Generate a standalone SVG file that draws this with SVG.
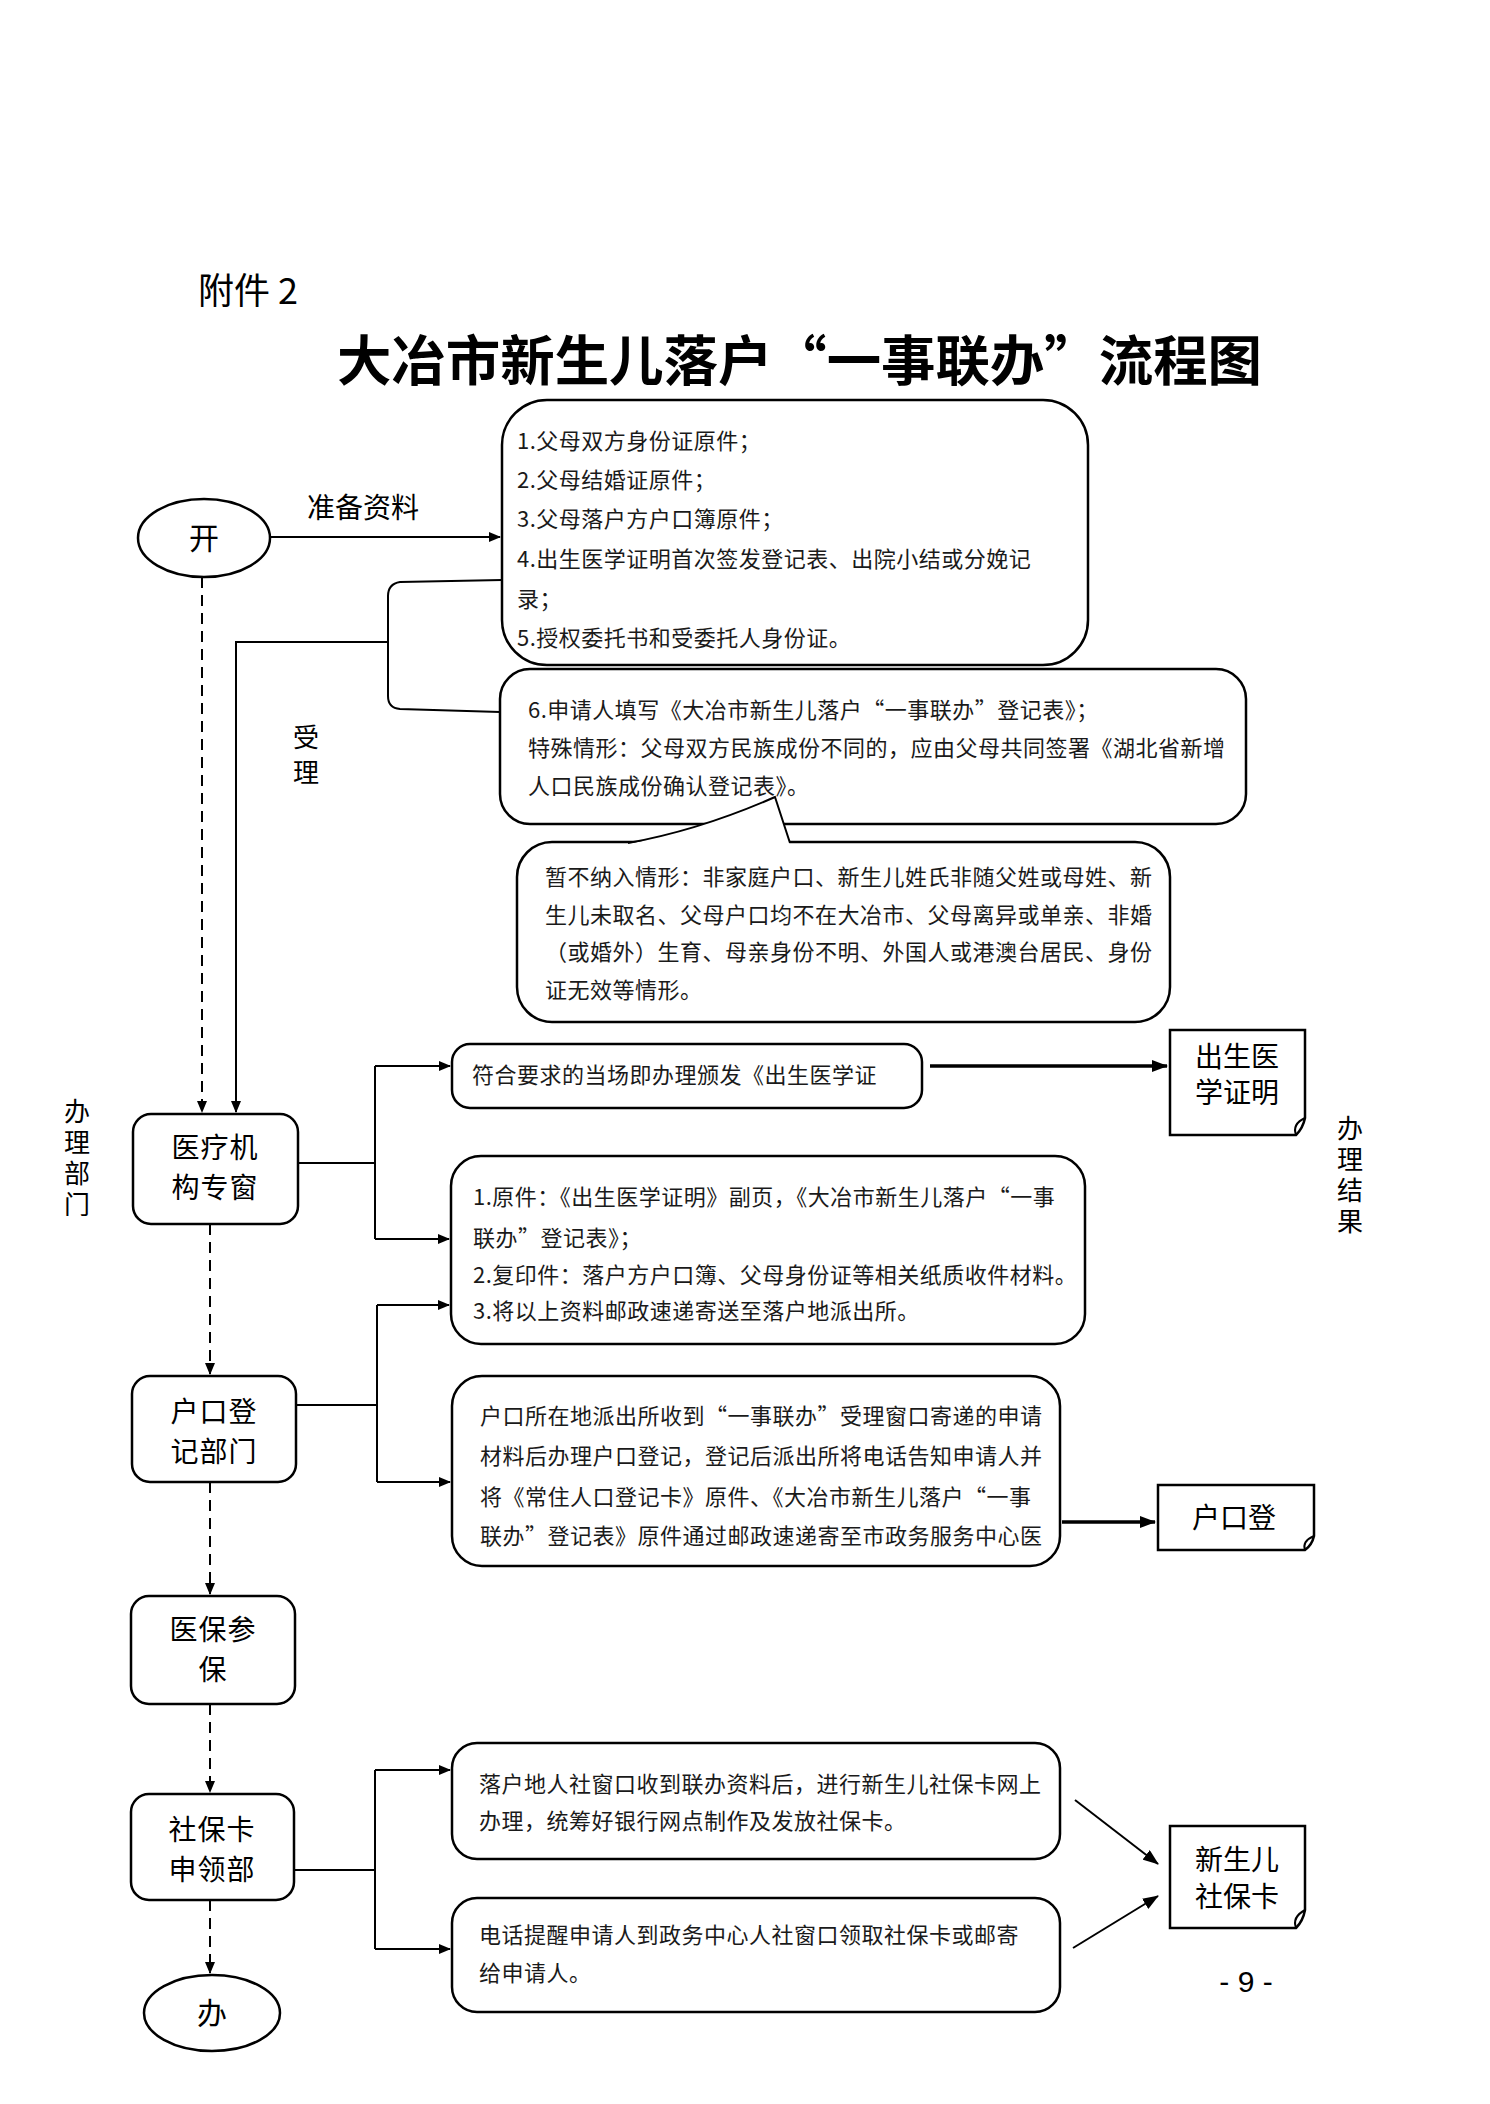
<svg xmlns="http://www.w3.org/2000/svg" width="1490" height="2104" viewBox="0 0 1490 2104">
<defs>
<marker id="ah" viewBox="0 0 12 10" refX="11" refY="5" markerWidth="12" markerHeight="10" markerUnits="userSpaceOnUse" orient="auto">
<path d="M0,0 L12,5 L0,10 z" fill="#000"/>
</marker>
<marker id="ahb" viewBox="0 0 16 12" refX="15" refY="6" markerWidth="16" markerHeight="12" markerUnits="userSpaceOnUse" orient="auto">
<path d="M0,0 L16,6 L0,12 z" fill="#000"/>
</marker>
</defs>
<style>
.bx{fill:#fff;stroke:#000;stroke-width:2.5}
.ln{fill:none;stroke:#000;stroke-width:2}
.thk{fill:none;stroke:#000;stroke-width:3.5}
.dash{fill:none;stroke:#000;stroke-width:2;stroke-dasharray:11 7}
.t{font-family:"Noto Sans CJK SC","Noto Sans",sans-serif;font-size:22px;fill:#1a1a1a;letter-spacing:0.5px}
.n{font-family:"Noto Sans CJK SC","Noto Sans",sans-serif;font-size:30px;fill:#000;text-anchor:middle}
.nd{font-family:"Noto Sans CJK SC","Noto Sans",sans-serif;font-size:28px;fill:#000;text-anchor:middle;letter-spacing:1px}
.r{font-family:"Noto Sans CJK SC","Noto Sans",sans-serif;font-size:28px;fill:#000;text-anchor:middle}
.lb{font-family:"Noto Sans CJK SC","Noto Sans",sans-serif;font-size:28px;fill:#000;text-anchor:middle}
.v{font-family:"Noto Sans CJK SC","Noto Sans",sans-serif;font-size:26px;fill:#000;writing-mode:vertical-rl}
</style>
<rect width="1490" height="2104" fill="#fff"/>
<text x="198" y="304" font-family="Noto Sans CJK SC,sans-serif" font-size="36" fill="#000">附件 2</text>
<text x="337" y="381" font-family="Noto Sans CJK SC,sans-serif" font-size="54" font-weight="bold" fill="#000" textLength="925" lengthAdjust="spacingAndGlyphs">大冶市新生儿落户“一事联办”流程图</text>

<g id="connectors">
<path class="ln" d="M270,537 H500" marker-end="url(#ah)"/>
<path class="ln" d="M502,580 L400,582 Q388,584 388,596 L388,696 Q388,708 400,709 L500,712"/>
<path class="ln" d="M388,642 H236 V1112" marker-end="url(#ah)"/>
<path class="dash" d="M202,577 V1112" marker-end="url(#ah)"/>
<path class="ln" d="M298,1163 H375 M375,1066 V1239"/>
<path class="ln" d="M375,1066 H450" marker-end="url(#ah)"/>
<path class="ln" d="M375,1239 H449" marker-end="url(#ah)"/>
<path class="thk" d="M930,1066 H1167" marker-end="url(#ahb)"/>
<path class="dash" d="M210,1224 V1374" marker-end="url(#ah)"/>
<path class="ln" d="M296,1405 H377 M377,1305 V1482"/>
<path class="ln" d="M377,1305 H449" marker-end="url(#ah)"/>
<path class="ln" d="M377,1482 H450" marker-end="url(#ah)"/>
<path class="thk" d="M1062,1522 H1155" marker-end="url(#ahb)"/>
<path class="dash" d="M210,1482 V1594" marker-end="url(#ah)"/>
<path class="dash" d="M210,1704 V1792" marker-end="url(#ah)"/>
<path class="ln" d="M294,1870 H375 M375,1770 V1949"/>
<path class="ln" d="M375,1770 H450" marker-end="url(#ah)"/>
<path class="ln" d="M375,1949 H450" marker-end="url(#ah)"/>
<path class="ln" d="M1075,1800 L1158,1864" marker-end="url(#ahb)"/>
<path class="ln" d="M1073,1948 L1158,1896" marker-end="url(#ahb)"/>
<path class="dash" d="M210,1900 V1973" marker-end="url(#ah)"/>
</g>

<g id="start">
<ellipse class="bx" cx="204" cy="538" rx="66" ry="39"/>
<text class="n" x="204" y="549">开</text>
</g>
<text class="lb" x="363" y="518">准备资料</text>

<g id="box-materials">
<rect class="bx" x="502" y="400" width="586" height="265" rx="45"/>
<text class="t" x="517" y="449">1.父母双方身份证原件；</text>
<text class="t" x="517" y="488">2.父母结婚证原件；</text>
<text class="t" x="517" y="527">3.父母落户方户口簿原件；</text>
<text class="t" x="517" y="567">4.出生医学证明首次签发登记表、出院小结或分娩记</text>
<text class="t" x="517" y="607">录；</text>
<text class="t" x="517" y="646">5.授权委托书和受委托人身份证。</text>
</g>

<g id="box-form">
<rect class="bx" x="500" y="669" width="746" height="155" rx="30"/>
<text class="t" x="528" y="718" letter-spacing="0">6.申请人填写《大冶市新生儿落户“一事联办”登记表》；</text>
<text class="t" x="528" y="756" letter-spacing="0.3">特殊情形：父母双方民族成份不同的，应由父母共同签署《湖北省新增</text>
<text class="t" x="528" y="794" letter-spacing="0.3">人口民族成份确认登记表》。</text>
</g>

<g id="box-exclude">
<rect class="bx" x="517" y="842" width="653" height="180" rx="35"/>
<path d="M628,844 Q700,830 775,797 L790,844 Z" fill="#fff" stroke="none"/>
<path class="ln" stroke-width="2.5" d="M628,843 Q700,830 775,797 L790,843"/>
<text class="t" x="545" y="885" letter-spacing="0.2">暂不纳入情形：非家庭户口、新生儿姓氏非随父姓或母姓、新</text>
<text class="t" x="545" y="923" letter-spacing="0.2">生儿未取名、父母户口均不在大冶市、父母离异或单亲、非婚</text>
<text class="t" x="545" y="960" letter-spacing="0.2">（或婚外）生育、母亲身份不明、外国人或港澳台居民、身份</text>
<text class="t" x="545" y="998" letter-spacing="0.2">证无效等情形。</text>
</g>

<text id="label-accept" class="v" x="306" y="724" letter-spacing="9">受理</text>
<text id="label-dept" class="v" x="77" y="1098" letter-spacing="5">办理部门</text>
<text id="label-result" class="v" x="1350" y="1115" letter-spacing="5">办理结果</text>

<g id="node-hospital">
<rect class="bx" x="133" y="1114" width="165" height="110" rx="18"/>
<text class="nd"><tspan x="215" y="1158">医疗机</tspan><tspan x="215" y="1198">构专窗</tspan></text>
</g>

<g id="box-issue">
<rect class="bx" x="452" y="1044" width="470" height="64" rx="18"/>
<text class="t" x="472" y="1083">符合要求的当场即办理颁发《出生医学证</text>
</g>

<g id="result-birthcert">
<path class="bx" d="M1170,1030 H1305 V1118 Q1303,1128 1296,1135 H1170 Z"/>
<path class="ln" d="M1296,1135 Q1292,1124 1305,1118"/>
<text class="r"><tspan x="1237" y="1067">出生医</tspan><tspan x="1237" y="1103">学证明</tspan></text>
</g>

<g id="box-mail">
<rect class="bx" x="451" y="1156" width="634" height="188" rx="30"/>
<text class="t" x="473" y="1205" letter-spacing="0.3">1.原件：《出生医学证明》副页，《大冶市新生儿落户“一事</text>
<text class="t" x="473" y="1246" letter-spacing="0.3">联办”登记表》；</text>
<text class="t" x="473" y="1283" letter-spacing="0.1">2.复印件：落户方户口簿、父母身份证等相关纸质收件材料。</text>
<text class="t" x="473" y="1319" letter-spacing="0.3">3.将以上资料邮政速递寄送至落户地派出所。</text>
</g>

<g id="node-police">
<rect class="bx" x="132" y="1376" width="164" height="106" rx="18"/>
<text class="nd"><tspan x="214" y="1422">户口登</tspan><tspan x="214" y="1462">记部门</tspan></text>
</g>

<g id="box-register">
<rect class="bx" x="452" y="1376" width="608" height="190" rx="30"/>
<text class="t" x="480" y="1424" letter-spacing="-0.3">户口所在地派出所收到“一事联办”受理窗口寄递的申请</text>
<text class="t" x="480" y="1464" letter-spacing="0">材料后办理户口登记，登记后派出所将电话告知申请人并</text>
<text class="t" x="480" y="1505" letter-spacing="-0.3">将《常住人口登记卡》原件、《大冶市新生儿落户“一事</text>
<text class="t" x="480" y="1544" letter-spacing="-0.3">联办”登记表》原件通过邮政速递寄至市政务服务中心医</text>
</g>

<g id="result-hukou">
<path class="bx" d="M1158,1485 H1314 V1536 Q1312,1545 1305,1550 H1158 Z"/>
<path class="ln" d="M1305,1550 Q1302,1541 1314,1536"/>
<text class="r" x="1234" y="1528">户口登</text>
</g>

<g id="node-insurance">
<rect class="bx" x="131" y="1596" width="164" height="108" rx="18"/>
<text class="nd"><tspan x="213" y="1640">医保参</tspan><tspan x="213" y="1680">保</tspan></text>
</g>

<g id="node-socialcard">
<rect class="bx" x="131" y="1794" width="163" height="106" rx="18"/>
<text class="nd"><tspan x="212" y="1840">社保卡</tspan><tspan x="212" y="1880">申领部</tspan></text>
</g>

<g id="box-card-make">
<rect class="bx" x="452" y="1743" width="608" height="116" rx="25"/>
<text class="t" x="479" y="1792" letter-spacing="0.8">落户地人社窗口收到联办资料后，进行新生儿社保卡网上</text>
<text class="t" x="479" y="1829" letter-spacing="0.8">办理，统筹好银行网点制作及发放社保卡。</text>
</g>

<g id="box-card-notify">
<rect class="bx" x="452" y="1898" width="608" height="114" rx="25"/>
<text class="t" x="479" y="1943" letter-spacing="0.8">电话提醒申请人到政务中心人社窗口领取社保卡或邮寄</text>
<text class="t" x="479" y="1981" letter-spacing="0.8">给申请人。</text>
</g>

<g id="result-card">
<path class="bx" d="M1170,1826 H1305 V1910 Q1303,1921 1296,1928 H1170 Z"/>
<path class="ln" d="M1296,1928 Q1292,1917 1305,1910"/>
<text class="r"><tspan x="1237" y="1870">新生儿</tspan><tspan x="1237" y="1907">社保卡</tspan></text>
</g>

<g id="end">
<ellipse class="bx" cx="212" cy="2013" rx="68" ry="38"/>
<text class="n" x="212" y="2024">办</text>
</g>

<text x="1246" y="1992" font-family="Liberation Sans,sans-serif" font-size="30" fill="#000" text-anchor="middle">- 9 -</text>
</svg>
